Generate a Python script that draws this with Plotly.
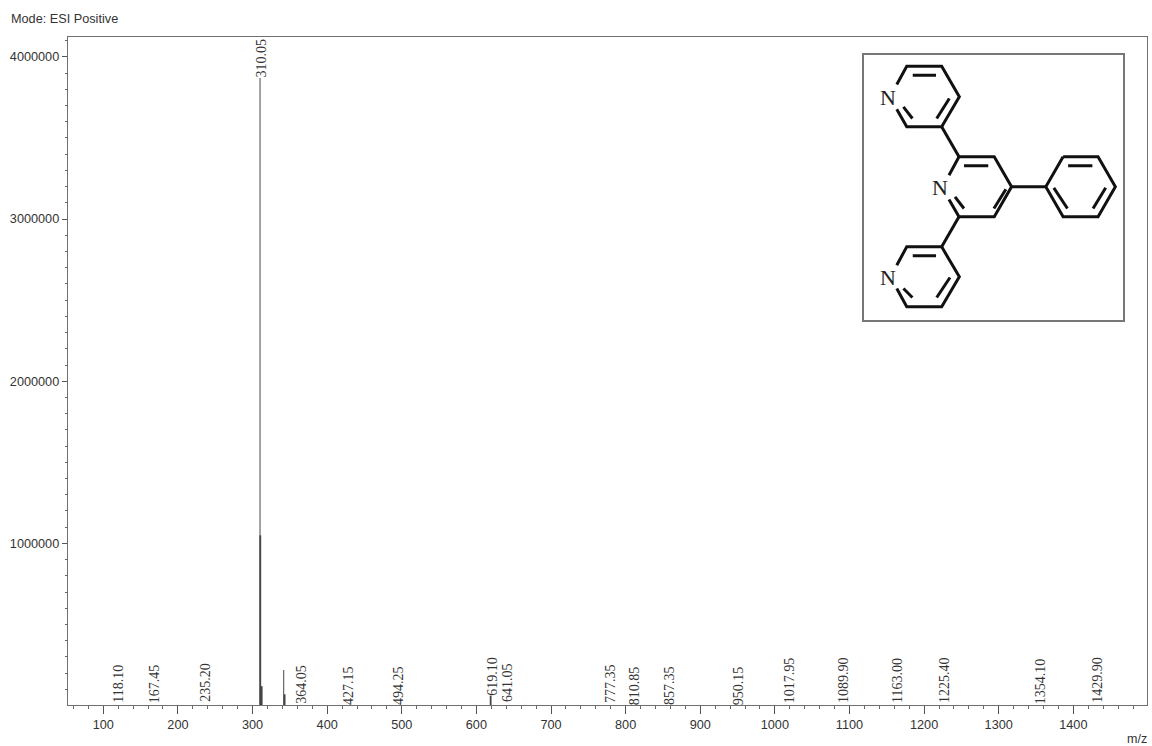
import plotly.graph_objects as go

# --- spectrum data ---
label_mz = [118.10, 167.45, 235.20, 310.05, 364.05, 427.15, 494.25, 619.10, 641.05,
            777.35, 810.85, 857.35, 950.15, 1017.95, 1089.90, 1163.00, 1225.40,
            1354.10, 1429.90]
label_height = [16000, 16000, 22000, 3870000, 10000, 4000, 4000, 62000, 20000,
                18000, 4000, 4000, 4000, 16000, 16000, 16000, 16000, 10000, 16000]
thin_mz = [310.05, 341.7]
thin_height = [3870000, 220000]
thick_mz = [310.4, 343.0, 619.10]
thick_height = [1050000, 70000, 62000]
thicker_mz = [311.8]
thicker_height = [120000]

y_ticks = [1000000, 2000000, 3000000, 4000000]
x_ticks = list(range(100, 1500, 100))

# --- molecule drawing (inset coordinates) ---
ring_bonds = [
    [(140, 133), (170, 78), (275, 78), (328, 170), (275, 260), (170, 260), (140, 207)],
    [(297, 405), (327, 350), (433, 350), (485, 440), (433, 530), (327, 530), (297, 478)],
    [(640, 350), (745, 350), (797, 440), (745, 530), (640, 530), (588, 440), (640, 350)],
    [(140, 675), (170, 620), (275, 620), (328, 710), (275, 800), (170, 800), (140, 745)],
    [(275, 260), (327, 350)], [(275, 620), (327, 530)], [(485, 440), (588, 440)],
    [(188, 105), (258, 105)], [(298, 175), (260, 235)], [(160, 200), (187, 235)],
    [(188, 647), (258, 647)], [(300, 712), (260, 772)], [(160, 745), (187, 772)],
    [(342, 377), (415, 377)], [(468, 447), (432, 505)], [(315, 470), (342, 505)],
    [(655, 377), (728, 377)], [(768, 443), (730, 505)], [(612, 443), (653, 505)],
]
nitrogen_atoms = [(113, 172), (271, 442), (113, 712)]

W, H = 1152, 746
L, R, T, B = 68, 1147, 37, 705
px = lambda v: (v - L) / (R - L)
py = lambda v: (B - v) / (B - T)


def sticks(xs, ys, width, color):
    xx, yy = [], []
    for a, b in zip(xs, ys):
        xx += [a, a, None]
        yy += [0, b, None]
    return go.Scatter(x=xx, y=yy, mode="lines", line=dict(color=color, width=width),
                      hoverinfo="skip", showlegend=False, cliponaxis=True)


fig = go.Figure()
fig.add_trace(sticks(thin_mz, thin_height, 1.2, "#666666"))
fig.add_trace(sticks(thick_mz, thick_height, 1.8, "#444444"))
fig.add_trace(sticks(thicker_mz, thicker_height, 2.5, "#444444"))

mx, my = [], []
for chain in ring_bonds:
    for p in chain:
        mx.append(p[0]); my.append(p[1])
    mx.append(None); my.append(None)
fig.add_trace(go.Scatter(x=mx, y=my, xaxis="x2", yaxis="y2", mode="lines",
                         line=dict(color="#111111", width=3), hoverinfo="skip",
                         showlegend=False))

annotations = []
for m, h in zip(label_mz, label_height):
    annotations.append(dict(x=m, y=h, xref="x", yref="y", text=f"{m:.2f}", textangle=-90,
                            showarrow=False, xanchor="center", yanchor="bottom", borderpad=0,
                            xshift=1, yshift=-1,
                            font=dict(family="Liberation Serif", size=14, color="#333333")))
for ax, ay in nitrogen_atoms:
    annotations.append(dict(x=ax, y=ay, xref="x2", yref="y2", text="N", showarrow=False,
                            xanchor="center", yanchor="middle", borderpad=0,
                            font=dict(family="Liberation Serif", size=22, color="#222222")))
annotations.append(dict(x=px(10), y=py(19), xref="paper", yref="paper", text="Mode: ESI Positive",
                        showarrow=False, xanchor="left", yanchor="middle", borderpad=0,
                        font=dict(family="Liberation Sans", size=12.7, color="#333333")))
annotations.append(dict(x=px(1148), y=py(739), xref="paper", yref="paper", text="m/z",
                        showarrow=False, xanchor="right", yanchor="middle", borderpad=0,
                        font=dict(family="Liberation Sans", size=12.5, color="#333333")))

fig.update_layout(
    width=W, height=H, autosize=False,
    margin=dict(l=L, r=W - R, t=T, b=H - B, pad=0),
    paper_bgcolor="white", plot_bgcolor="white", showlegend=False,
    font=dict(family="Liberation Sans", size=12.7, color="#333333"),
    annotations=annotations,
    xaxis=dict(range=[52.7, 1498.7], tickmode="array", tickvals=x_ticks, showgrid=False, zeroline=False,
               showline=True, linecolor="#707070", linewidth=1.4, mirror=True,
               ticks="outside", ticklen=8, tickwidth=1, tickcolor="#555555",
               minor=dict(dtick=20, tick0=0, ticks="outside", ticklen=3, tickwidth=1,
                          tickcolor="#666666", showgrid=False)),
    yaxis=dict(range=[4000, 4122000], tickmode="array", tickvals=y_ticks, showgrid=False, zeroline=False,
               tickformat="d", showline=True, linecolor="#707070", linewidth=1.4, mirror=True,
               ticks="outside", ticklen=5, tickwidth=1, tickcolor="#555555",
               minor=dict(dtick=100000, tick0=0, ticks="outside", ticklen=2, tickwidth=1,
                          tickcolor="#666666", showgrid=False)),
    xaxis2=dict(domain=[px(863.5), px(1123)], range=[40, 820], anchor="y2", showgrid=False,
                zeroline=False, showticklabels=False, ticks="", showline=True, mirror=True,
                linecolor="#777777", linewidth=1.6),
    yaxis2=dict(domain=[py(319.5), py(54.5)], range=[838, 43], anchor="x2", showgrid=False,
                zeroline=False, showticklabels=False, ticks="", showline=True, mirror=True,
                linecolor="#777777", linewidth=1.6),
)

fig.write_html("out.html", config={"displayModeBar": False},
               post_script="document.body.style.margin='0';document.body.style.overflow='hidden';")
